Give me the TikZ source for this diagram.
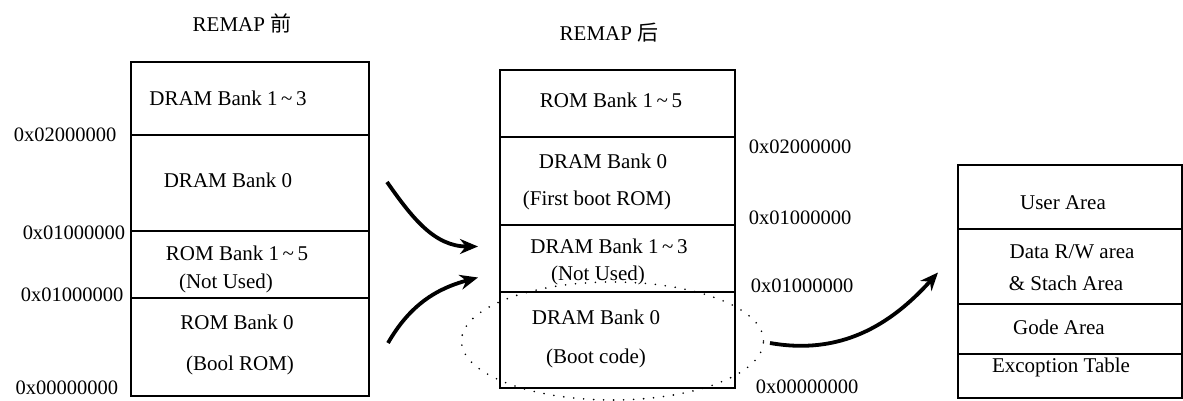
\documentclass[tikz,border=0pt]{standalone}
\usepackage{fontspec}
\setmainfont{Liberation Serif}
\newfontfamily\cjk{Noto Sans CJK SC}
\usetikzlibrary{calc, arrows.meta}
\newcommand{\tld}{\,\textasciitilde\,}

\begin{document}
\begin{tikzpicture}[x=1pt, y=1pt,
  cell/.style={draw, line width=1.5pt, inner sep=0pt, outer sep=0pt},
  txt/.style={font=\rmfamily\fontsize{21}{23}\selectfont, inner sep=1pt},
  addr/.style={font=\rmfamily\fontsize{20.5}{22}\selectfont, inner sep=1pt},
  remap/.style={-{Stealth[length=18pt, width=15pt]}, line width=3.8pt}]
  \useasboundingbox (0,0) rectangle (1183,401);
  % Titres
  \node[txt] (tav) at (242,378) {REMAP {\cjk 前}};
  \node[txt] (tap) at (609,368) {REMAP {\cjk 后}};
  % Carte mémoire avant remap
  \foreach \n/\t/\b in {l1/339/266, l2/266/170, l3/170/103, l4/103/5}
    \node[cell, minimum width=238, minimum height=\t-\b] (\n) at (250,{(\t+\b)/2}) {};
  \node[txt] (l1a) at (228,303) {DRAM Bank 1\tld3};
  \node[txt] (l2a) at (228,221) {DRAM Bank 0};
  \node[txt] (l3a) at (237,148) {ROM Bank 1\tld5};
  \node[txt] (l3b) at (226,118) {(Not Used)};
  \node[txt] (l4a) at (237,79) {ROM Bank 0};
  \node[txt] (l4b) at (240,36) {(Bool ROM)};
  \node[addr] (la1) at (65,266) {0x02000000};
  \node[addr] (la2) at (74,168) {0x01000000};
  \node[addr] (la3) at (72,106) {0x01000000};
  \node[addr] (la4) at (67,13) {0x00000000};
  % Carte mémoire après remap
  \foreach \n/\t/\b in {m1/331/264, m2/264/176, m3/176/109, m4/109/13}
    \node[cell, minimum width=235, minimum height=\t-\b] (\n) at (617.5,{(\t+\b)/2}) {};
  \node[txt] (m1a) at (611,301) {ROM Bank 1\tld5};
  \node[txt] (m2a) at (603,240) {DRAM Bank 0};
  \node[txt] (m2b) at (597,201) {(First boot ROM)};
  \node[txt] (m3a) at (609,155) {DRAM Bank 1\tld3};
  \node[txt] (m3b) at (598,126) {(Not Used)};
  \node[txt] (m4a) at (596,84) {DRAM Bank 0};
  \node[txt] (m4b) at (596,43) {(Boot code)};
  \node[addr] (ma1) at (800,254) {0x02000000};
  \node[addr] (ma2) at (800,183) {0x01000000};
  \node[addr] (ma3) at (802,115) {0x01000000};
  \node[addr] (ma4) at (807,14) {0x00000000};
  % Zone de la RAM
  \foreach \n/\t/\b in {r1/236/172, r2/172/97, r3/97/47, r4/47/3}
    \node[cell, minimum width=224, minimum height=\t-\b] (\n) at (1070,{(\t+\b)/2}) {};
  \node[txt] (r1a) at (1063,198) {User Area};
  \node[txt] (r2a) at (1072,149) {Data R/W area};
  \node[txt] (r2b) at (1066,118) {\& Stach Area};
  \node[txt] (r3a) at (1059,74) {Gode Area};
  \node[txt] (r4a) at (1061,34) {Excoption Table};
  % Flèches
  \draw[remap] ($(l2.east)+(18,1)$) to[out=-55, in=180] ($(m3.west)+(-22,12)$);
  \draw[remap] ($(l4.east)+(19,4)$) to[out=60, in=195] ($(m3.west)+(-22,-19)$);
  \draw[line width=1.8pt, line cap=round, dash pattern=on 0pt off 10pt]
    ($(m4.center)+(-5,-1)$) ellipse (151 and 59);
  \draw[remap] ($(m4.east)+(35,-3)$) to[out=-10, in=228] ($(r2.west)+(-20,-6)$);
\end{tikzpicture}
\end{document}
